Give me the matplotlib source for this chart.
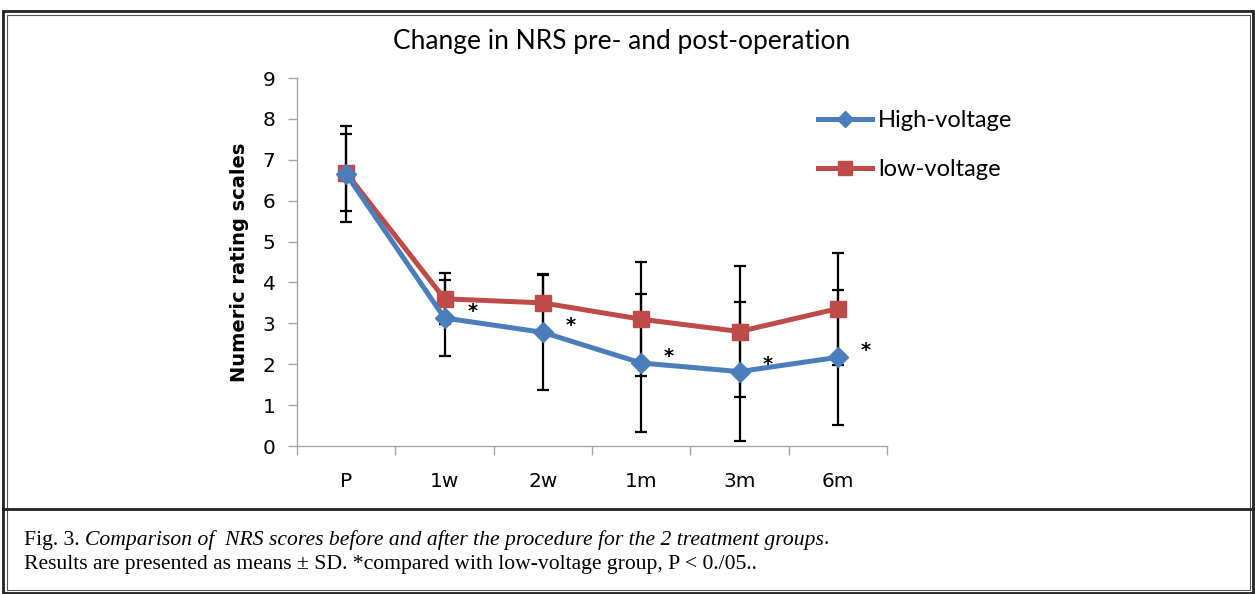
import matplotlib.pyplot as plt
from matplotlib.patches import Rectangle
from matplotlib.lines import Line2D

# data
times = ['P', '1w', '2w', '1m', '3m', '6m']
high_mean = [6.65, 3.13, 2.78, 2.03, 1.82, 2.17]
high_sd = [1.17, 0.92, 1.40, 1.68, 1.70, 1.65]
low_mean = [6.68, 3.60, 3.50, 3.10, 2.80, 3.36]
low_sd = [0.94, 0.62, 0.70, 1.40, 1.60, 1.37]
signif = ['', '*', '*', '*', '*', '*']

blue = '#4a7ebb'
red = '#be4b48'
W, H = 1255, 594

fig = plt.figure(figsize=(W / 100, H / 100), dpi=100)
ax = fig.add_axes([297 / W, 1 - 446 / H, (887 - 297) / W, (446 - 78) / H])

x = list(range(len(times)))

# error bars first, then the lines on top
ax.errorbar(x, high_mean, yerr=high_sd, fmt='none', ecolor='black',
            elinewidth=1.6, capsize=4.5, capthick=1.6, zorder=2)
ax.errorbar(x, low_mean, yerr=low_sd, fmt='none', ecolor='black',
            elinewidth=1.6, capsize=4.5, capthick=1.6, zorder=2)
ax.plot(x, low_mean, color=red, lw=3.6, marker='s', ms=12,
        label='low-voltage', zorder=3)
ax.plot(x, high_mean, color=blue, lw=3.6, marker='D', ms=10,
        label='High-voltage', zorder=4)

for xi, yi, s in zip(x, high_mean, signif):
    if s:
        ax.annotate(s, (xi, yi), xytext=(20, 5), textcoords='offset points',
                    ha='center', va='center', fontsize=14, fontweight='bold',
                    zorder=5)

ax.set_xlim(-0.5, len(times) - 0.5)
ax.set_ylim(0, 9)
ax.set_yticks(range(10))
ax.set_xticks(x)
ax.set_xticklabels(times)
ax.set_xticks([i - 0.5 for i in range(len(times) + 1)], minor=True)
ax.tick_params(axis='x', which='major', length=0, pad=19, labelsize=14.5)
ax.tick_params(axis='x', which='minor', length=6.5, width=1, color='#a6a6a6',
               direction='out')
ax.tick_params(axis='y', length=6.5, width=1, color='#a6a6a6', pad=9,
               labelsize=14.5)
for side in ['top', 'right']:
    ax.spines[side].set_visible(False)
for side in ['left', 'bottom']:
    ax.spines[side].set_color('#a6a6a6')
    ax.spines[side].set_linewidth(1)

ax.set_ylabel('Numeric rating scales', fontsize=14, fontweight='bold',
              labelpad=10)
fig.text(622 / W, 1 - 42 / H, 'Change in NRS pre- and post-operation',
         ha='center', va='center', fontsize=19, family='Lato')

h, l = ax.get_legend_handles_labels()
fig.legend(h[::-1], l[::-1], loc='center left',
           bbox_to_anchor=(818 / W, 1 - 145 / H), frameon=False,
           prop={'family': 'Lato', 'size': 17}, handlelength=2.3,
           handletextpad=0.25, labelspacing=1.2, borderaxespad=0,
           borderpad=0, markerscale=0.85)

# frame around the figure and caption box
fig.patches.append(Rectangle((3 / W, 1 - 593 / H), 1250 / W, 582 / H,
                             transform=fig.transFigure, fill=False,
                             edgecolor='#222222', lw=2))
fig.patches.append(Rectangle((7 / W, 1 - 590 / H), 1243 / W, 575 / H,
                             transform=fig.transFigure, fill=False,
                             edgecolor='#555555', lw=0.8))
fig.add_artist(Line2D([3 / W, 1253 / W], [1 - 509 / H, 1 - 509 / H],
                      transform=fig.transFigure, color='#222222', lw=2))

# caption with mixed styles
fs = 15.6
fig.canvas.draw()
r = fig.canvas.get_renderer()
t1 = fig.text(24 / W, 1 - 540 / H, 'Fig. 3. ', fontsize=fs,
              family='Liberation Serif', va='center')
x1 = t1.get_window_extent(r).x1
t2 = fig.text(x1 / W, 1 - 540 / H,
              'Comparison of  NRS scores before and after the procedure for the 2 treatment groups',
              fontsize=fs, family='Liberation Serif', style='italic',
              va='center')
x2 = t2.get_window_extent(r).x1
fig.text(x2 / W, 1 - 540 / H, '.', fontsize=fs, family='Liberation Serif',
         va='center')
fig.text(24 / W, 1 - 564 / H,
         'Results are presented as means \u00b1 SD. *compared with low-voltage group, P < 0./05..',
         fontsize=fs, family='Liberation Serif', va='center')

fig.savefig('out.png', dpi=100)
